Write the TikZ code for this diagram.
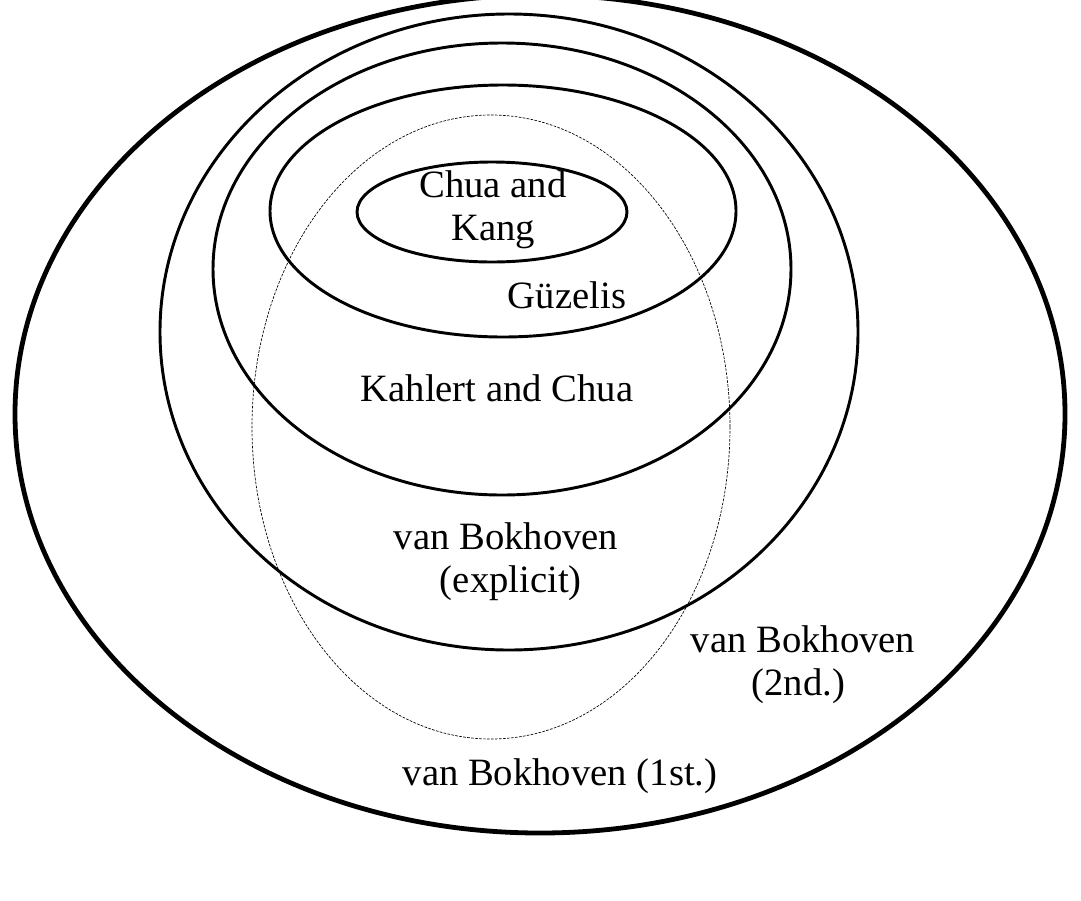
\documentclass[tikz,border=0pt]{standalone}
\usepackage{fontspec}
\setmainfont{Liberation Serif}
\usepackage{tikz}

\begin{document}
\begin{tikzpicture}[x=0.75pt,y=-0.75pt,
    ring/.style={line width=2.2pt},
    lbl/.style={align=center,font=\fontsize{29}{32}\selectfont,inner sep=0pt}]
    \useasboundingbox (0,0) rectangle (1081,900);
    \clip (0,0) rectangle (1081,900);

    \draw[line width=3.6pt](540,414) ellipse [x radius=525, y radius=419];
    \draw[ring](509,332) ellipse [x radius=349, y radius=318];
    \draw[ring](502,269) ellipse [x radius=289, y radius=226];
    \draw[ring](503,211) ellipse [x radius=233, y radius=126];
    \draw[ring](492,212) ellipse [x radius=135, y radius=50];
    \draw[dash pattern=on 2pt off 1pt, line width=0.5pt](491,427) ellipse [x radius=239, y radius=312];

    \node[lbl] (chua) at (493,210) {Chua and\\Kang};
    \node[lbl] (guz) at (567,295) {Güzelis};
    \node[lbl] (kahl) at (497,388) {Kahlert and Chua};
    \node[lbl] (vbexp) at (506,562) {van Bokhoven\\\ (explicit)};
    \node[lbl] (vbsnd) at (803,665) {van Bokhoven\\(2nd.)\ \ };
    \node[lbl] (vbfst) at (560,776) {van Bokhoven (1st.)};
\end{tikzpicture}
\end{document}
